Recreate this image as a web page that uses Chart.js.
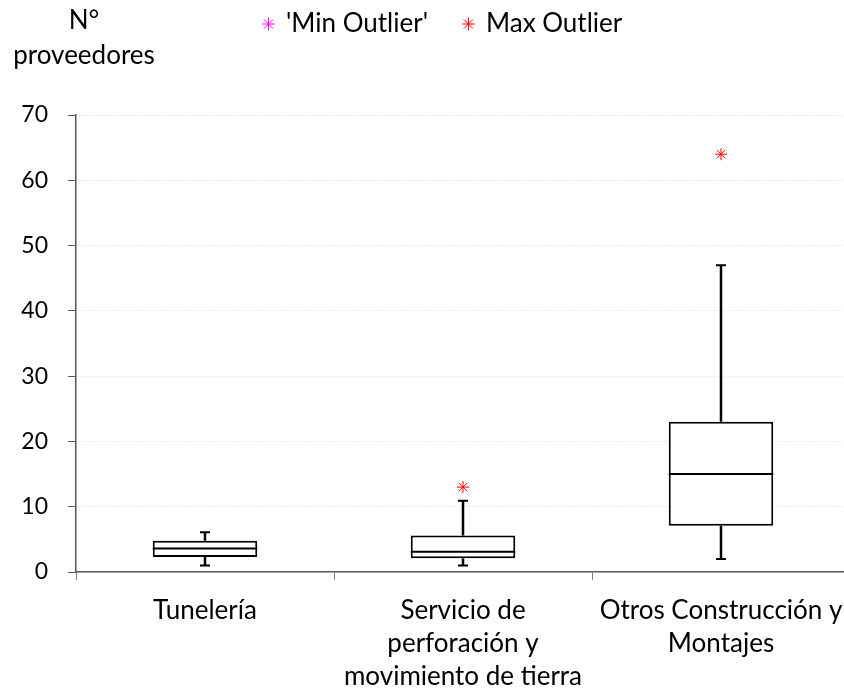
<!DOCTYPE html>
<html>
<head>
<meta charset="utf-8">
<script src="https://cdn.jsdelivr.net/npm/chart.js@4.4.1/dist/chart.umd.min.js"></script>
<style>
  body { margin: 0; background: #fff; overflow: hidden; }
  #wrap { width: 857px; height: 692px; }
</style>
</head>
<body>
<div id="wrap"><canvas id="boxChart"></canvas></div>
<script>
// datos
const categorias = [
  ['Tunelería'],
  ['Servicio de', 'perforación y', 'movimiento de tierra'],
  ['Otros Construcción y', 'Montajes']
];
const minimos = [1, 1, 2];
const q1 = [2.3, 2.1, 7.1];
const medianas = [3.6, 3.1, 15];
const q3 = [4.8, 5.6, 23];
const maximos = [6.1, 10.9, 47];
const minOutlier = [null, null, null];
const maxOutlier = [null, 13, 64];
const ticksY = [0, 10, 20, 30, 40, 50, 60, 70];

const fuente = 'Lato, "Open Sans", sans-serif';

// la caja = barra flotante entre q1 y q3
const cajas = q1.map((v, i) => [v, q3[i]]);

// bigotes y mediana
const bigotes = {
  id: 'bigotes',
  afterDatasetsDraw(chart) {
    const x = chart.scales.x, y = chart.scales.y;
    const ctx = chart.ctx;
    const meta = chart.getDatasetMeta(0);
    ctx.save();
    ctx.strokeStyle = '#000';
    for (let i = 0; i < categorias.length; i++) {
      const cx = x.getPixelForValue(i);
      const ancho = meta.data[i].width;
      // mediana
      ctx.lineWidth = 2;
      ctx.beginPath();
      ctx.moveTo(cx - ancho / 2, y.getPixelForValue(medianas[i]));
      ctx.lineTo(cx + ancho / 2, y.getPixelForValue(medianas[i]));
      ctx.stroke();
      // bigotes
      ctx.lineWidth = 2.5;
      ctx.beginPath();
      ctx.moveTo(cx, y.getPixelForValue(q3[i]));
      ctx.lineTo(cx, y.getPixelForValue(maximos[i]));
      ctx.moveTo(cx, y.getPixelForValue(q1[i]));
      ctx.lineTo(cx, y.getPixelForValue(minimos[i]));
      ctx.stroke();
      ctx.lineWidth = 2;
      ctx.beginPath();
      ctx.moveTo(cx - 5, y.getPixelForValue(maximos[i]));
      ctx.lineTo(cx + 5, y.getPixelForValue(maximos[i]));
      ctx.moveTo(cx - 5, y.getPixelForValue(minimos[i]));
      ctx.lineTo(cx + 5, y.getPixelForValue(minimos[i]));
      ctx.stroke();
    }
    ctx.restore();
  }
};

// titulo del eje y, horizontal arriba a la izquierda
const tituloY = {
  id: 'tituloY',
  afterDraw(chart) {
    const ctx = chart.ctx;
    ctx.save();
    ctx.fillStyle = '#000';
    ctx.font = '26px ' + fuente;
    ctx.textAlign = 'center';
    ctx.textBaseline = 'middle';
    ctx.fillText('N°', 84, 21);
    ctx.fillText('proveedores', 84, 56);
    ctx.restore();
  }
};

// espacio debajo de la leyenda y posicion de la leyenda
const espacioLeyenda = {
  id: 'espacioLeyenda',
  beforeInit(chart) {
    const fitOriginal = chart.legend.fit;
    chart.legend.fit = function () {
      fitOriginal.bind(chart.legend)();
      this.height = 115;
    };
  },
  beforeDraw(chart) {
    chart.legend.left = 228;
    chart.legend.top = -25;
  }
};

const ctx = document.getElementById('boxChart').getContext('2d');
new Chart(ctx, {
  data: {
    labels: categorias,
    datasets: [{
      type: 'bar',
      label: 'caja',
      data: cajas,
      backgroundColor: '#fff',
      borderColor: '#000',
      borderWidth: 2,
      borderSkipped: false,
      barPercentage: 0.405,
      categoryPercentage: 1,
      order: 2
    }, {
      type: 'line',
      label: "'Min Outlier'",
      data: minOutlier,
      showLine: false,
      pointStyle: 'star',
      pointRadius: 6,
      borderColor: '#ff00ff',
      backgroundColor: '#ff00ff',
      borderWidth: 1,
      order: 1
    }, {
      type: 'line',
      label: 'Max Outlier',
      data: maxOutlier,
      showLine: false,
      pointStyle: 'star',
      pointRadius: 6,
      borderColor: '#ff0000',
      backgroundColor: '#ff0000',
      borderWidth: 1,
      order: 1
    }]
  },
  options: {
    responsive: true,
    maintainAspectRatio: false,
    animation: false,
    layout: { padding: 0 },
    plugins: {
      legend: {
        display: true,
        position: 'top',
        align: 'start',
        labels: {
          usePointStyle: true,
          boxWidth: 9,
          boxHeight: 9,
          padding: 36,
          color: '#000',
          font: { family: fuente, size: 26 },
          filter: item => item.datasetIndex !== 0
        }
      },
      tooltip: { enabled: false }
    },
    scales: {
      x: {
        offset: true,
        grid: {
          display: true,
          offset: true,
          drawOnChartArea: false,
          drawTicks: true,
          tickLength: 8,
          color: '#808080'
        },
        border: { display: true, color: '#595959', width: 1.5 },
        ticks: {
          color: '#000',
          padding: 14,
          maxRotation: 0,
          autoSkip: false,
          font: { family: fuente, size: 26, lineHeight: 1.27 }
        },
        afterFit(scale) {
          scale.height = 120;
          scale.paddingLeft = 0;
          scale.paddingRight = 0;
        }
      },
      y: {
        min: 0,
        max: 70,
        afterBuildTicks(scale) { scale.ticks = ticksY.map(v => ({ value: v })); },
        grid: {
          color: '#d9d9d9',
          drawTicks: true,
          tickLength: 8,
          tickColor: '#595959',
          tickBorderDash: []
        },
        border: { display: true, color: '#595959', width: 1.5, dash: [1, 2] },
        ticks: {
          color: '#000',
          padding: 20,
          font: { family: fuente, size: 23 }
        },
        afterFit(scale) { scale.width = 76; }
      }
    }
  },
  plugins: [bigotes, tituloY, espacioLeyenda]
});
</script>
</body>
</html>
